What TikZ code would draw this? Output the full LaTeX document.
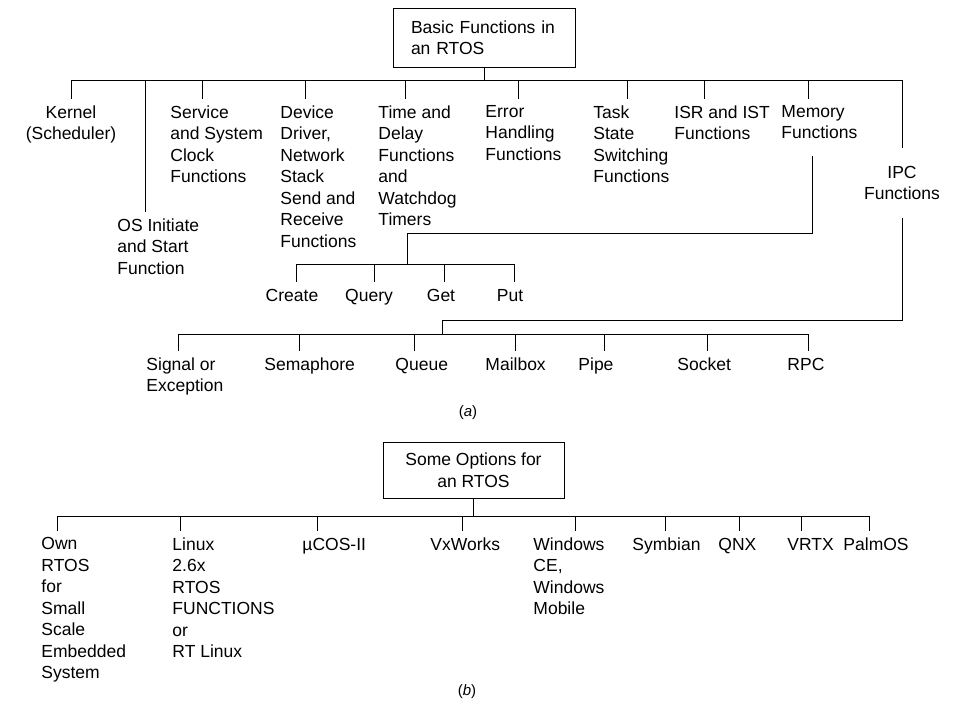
\documentclass[tikz,border=0pt]{standalone}
\usepackage{fontspec}
\setmainfont{Liberation Sans}
\usetikzlibrary{positioning}

\begin{document}
\begin{tikzpicture}[x=1pt,y=-1pt,line width=0.9pt,
  font=\fontsize{17.5}{21.5}\selectfont,
  lbl/.style={align=left,anchor=north west,inner xsep=0pt,inner ysep=6pt,
    execute at begin node={\rule{0pt}{13pt}}},
  ctr/.style={lbl,align=center,anchor=north},
  headbox/.style={draw,line width=0.7pt,inner sep=0pt},
  caption/.style={font=\fontsize{15}{18}\selectfont}]
\useasboundingbox (0,0) rectangle (955,701);

\node[headbox,minimum width=182pt,minimum height=59pt,text width=146pt,align=left] (basic) at (484,37.5) {Basic Functions in\\an RTOS};
\node[ctr] (kern) at (71,99) {Kernel\\(Scheduler)};
\node[lbl] (osi) at (117,212) {OS Initiate\\and Start\\Function};
\node[lbl] (serv) at (170,99) {Service\\and System\\Clock\\Functions};
\node[lbl] (dev) at (280,99) {Device\\Driver,\\Network\\Stack\\Send and\\Receive\\Functions};
\node[lbl] (time) at (378,99) {Time and\\Delay\\Functions\\and\\Watchdog\\Timers};
\node[lbl] (err) at (485,99) {Error\\Handling\\Functions};
\node[lbl] (task) at (593,99) {Task\\State\\Switching\\Functions};
\node[lbl] (isr) at (674,99) {ISR and IST\\Functions};
\node[lbl] (mem) at (781,99) {Memory\\Functions};
\node[ctr,inner ysep=17.5pt] (ipc) at (902,148) {IPC\\Functions};
\foreach \n/\x in {kern/71,osi/145,serv/202,dev/305,time/405,err/518,task/627,isr/704,mem/808,ipc/902}
  \coordinate (\n-up) at (\x,80);
\draw (basic.south) -- (basic.south |- kern-up);
\draw (kern-up) -- (ipc-up);
\foreach \n in {kern,osi,serv,dev,time,err,task,isr,mem,ipc}
  \draw (\n-up) -- (\n-up |- \n.north);

\node[ctr] (create) at (292,282) {Create};
\node[ctr] (query) at (369,282) {Query};
\node[ctr] (get) at (441,282) {Get};
\node[ctr] (put) at (510,282) {Put};
\coordinate (mem-dn) at (812,156);
\coordinate (mq-turn) at (407,233);
\coordinate (mq-up) at (407,264);
\foreach \n/\x in {create/296,query/374,get/444,put/514}
  \coordinate (\n-up) at (\x,264);
\draw (mem-dn) |- (mq-turn) -- (mq-up);
\draw (create-up) -- (put-up);
\foreach \n in {create,query,get,put}
  \draw (\n-up) -- (\n-up |- \n.north);

\node[lbl] (sig) at (146,351) {Signal or\\Exception};
\node[lbl] (sem) at (264,351) {Semaphore};
\node[lbl] (que) at (395,351) {Queue};
\node[lbl] (mail) at (485,351) {Mailbox};
\node[lbl] (pipe) at (578,351) {Pipe};
\node[lbl] (sock) at (677,351) {Socket};
\node[lbl] (rpc) at (787,351) {RPC};
\coordinate (ipc-turn) at (442,320);
\coordinate (ipcq-up) at (442,334);
\foreach \n/\x in {sig/178,sem/299,que/414,mail/515,pipe/604,sock/707,rpc/808}
  \coordinate (\n-up) at (\x,334);
\draw (ipc.south) |- (ipc-turn) -- (ipcq-up);
\draw (sig-up) -- (rpc-up);
\foreach \n in {sig,sem,que,mail,pipe,sock,rpc}
  \draw (\n-up) -- (\n-up |- \n.north);
\node[caption] (capa) at (468,413) {(\textit{a})};

\node[headbox,minimum width=181pt,minimum height=56pt,align=center] (opts) at (473.5,470) {Some Options for\\an RTOS};
\node[lbl] (own) at (41,531) {Own\\RTOS\\for\\Small\\Scale\\Embedded\\System};
\node[lbl] (lin) at (172,531) {Linux\\2.6x\\RTOS\\FUNCTIONS\\or\\RT Linux};
\node[lbl] (ucos) at (302,531) {µCOS-II};
\node[lbl] (vxw) at (430,531) {VxWorks};
\node[lbl] (win) at (533,531) {Windows\\CE,\\Windows\\Mobile};
\node[lbl] (sym) at (632,531) {Symbian};
\node[lbl] (qnx) at (718,531) {QNX};
\node[lbl] (vrtx) at (787,531) {VRTX};
\node[lbl] (palm) at (843,531) {PalmOS};
\foreach \n/\x in {own/57,lin/180,ucos/317,vxw/462,win/575,sym/665,qnx/739,vrtx/801,palm/869}
  \coordinate (\n-up) at (\x,516);
\draw (opts.south) -- (opts.south |- own-up);
\draw (own-up) -- (palm-up);
\foreach \n in {own,lin,ucos,vxw,win,sym,qnx,vrtx,palm}
  \draw (\n-up) -- (\n-up |- \n.north);
\node[caption] (capb) at (467,692) {(\textit{b})};
\end{tikzpicture}
\end{document}
